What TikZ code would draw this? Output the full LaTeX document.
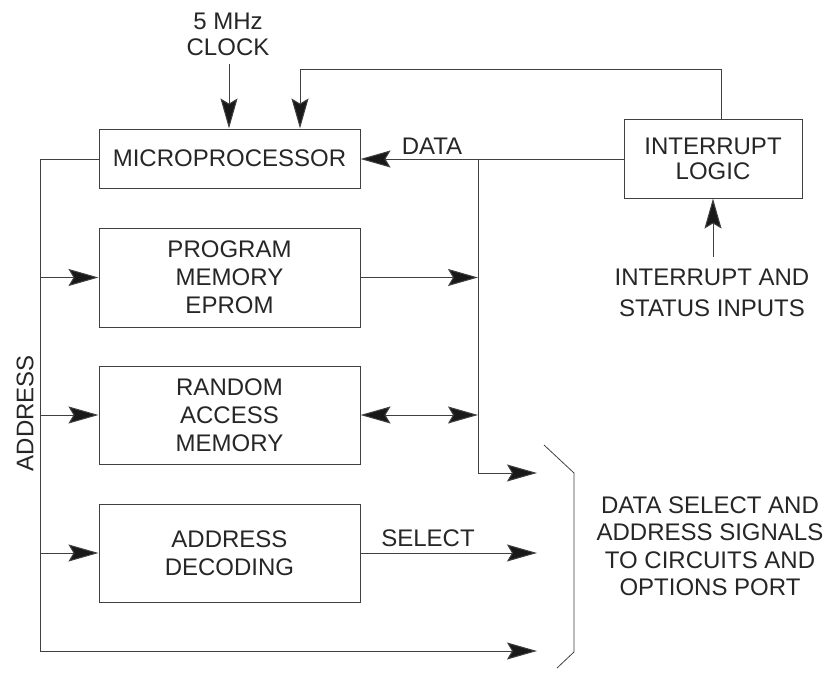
\documentclass[tikz,border=0pt]{standalone}
\usepackage{fontspec}
\setmainfont{Liberation Sans}
\usetikzlibrary{arrows.meta}
\begin{document}
\begin{tikzpicture}[x=1pt,y=-1pt,
  every node/.style={font=\fontsize{24}{28}\selectfont, text=black!85},
  blk/.style={draw=black!75, line width=1pt, minimum width=261pt, align=center, inner sep=0pt},
  lab/.style={align=center, inner sep=0pt},
  wire/.style={draw=black!75, line width=1pt},
  tip/.style={Stealth[length=30pt,width=17pt,inset=5pt,fill=black!90]},
  arr/.style={wire, -{Stealth[length=30pt,width=17pt,inset=5pt,fill=black!90]}},
  darr/.style={wire, {Stealth[length=30pt,width=17pt,inset=5pt,fill=black!90]}-{Stealth[length=30pt,width=17pt,inset=5pt,fill=black!90]}}]
\useasboundingbox (0,0) rectangle (828,677);

% blocks
\node[blk, minimum height=59pt] (micro) at (229.5,158.5) {MICROPROCESSOR};
\node[blk, minimum height=99pt] (prog) at (229.5,277.5) {PROGRAM\\MEMORY\\EPROM};
\node[blk, minimum height=98pt] (ram) at (229.5,415) {RANDOM\\ACCESS\\MEMORY};
\node[blk, minimum height=98pt] (dec) at (229.5,553) {ADDRESS\\DECODING};
\node[blk, minimum width=178pt, minimum height=79pt, font=\fontsize{24}{25}\selectfont] (intr) at (713,158.5) {INTERRUPT\\LOGIC};

% labels
\node[lab, font=\fontsize{24}{26}\selectfont] (clk) at (228,34) {5 MHz\\CLOCK};
\node[lab, font=\fontsize{24}{31}\selectfont] (irqin) at (712,293) {INTERRUPT AND\\STATUS INPUTS};
\node[lab] (datalab) at (432,146) {DATA};
\node[lab] (sellab) at (428,538) {SELECT};
\node[lab, font=\fontsize{24}{27.5}\selectfont] (outlab) at (710,546) {DATA SELECT AND\\ADDRESS SIGNALS\\TO CIRCUITS AND\\OPTIONS PORT};
\node[lab, rotate=90] (addrlab) at (25,413) {ADDRESS};

% coordinates
\coordinate (clktop) at (229,64);
\coordinate (fbtop) at (300,70);
\coordinate (fbright) at (721,70);
\coordinate (irqbot) at (713,257);
\coordinate (dbus) at (478,159);
\coordinate (dbusbot) at (478,473);
\coordinate (abus) at (40,159);
\coordinate (abusbot) at (40,651);
\coordinate (out1) at (537,473);
\coordinate (out2) at (537,553);
\coordinate (out3) at (537,651);

% clock and interrupt feedback
\draw[arr] (clktop) -- (clktop |- micro.north);
\draw[arr] (intr.north -| fbright) -- (fbright) -- (fbtop) -- (fbtop |- micro.north);
\draw[arr] (irqbot) -- (irqbot |- intr.south);

% data bus
\draw[arr] (intr.west |- dbus) -- (micro.east |- dbus);
\draw[wire] (dbus) -- (dbusbot);
\draw[arr] (dbusbot) -- (out1);
\draw[arr] (prog.east) -- (prog.east -| dbus);
\draw[darr] (ram.east) -- (ram.east -| dbus);
\draw[arr] (dec.east) -- (out2);

% address bus
\draw[wire] (micro.west |- abus) -- (abus) -- (abusbot);
\draw[arr] (abusbot) -- (out3);
\draw[arr] (abus |- prog.west) -- (prog.west);
\draw[arr] (abus |- ram.west) -- (ram.west);
\draw[arr] (abus |- dec.west) -- (dec.west);

% bracket
\draw[wire, line width=0.8pt] (544,445) -- (574,473) -- (574,652) -- (557,668);
\end{tikzpicture}
\end{document}
